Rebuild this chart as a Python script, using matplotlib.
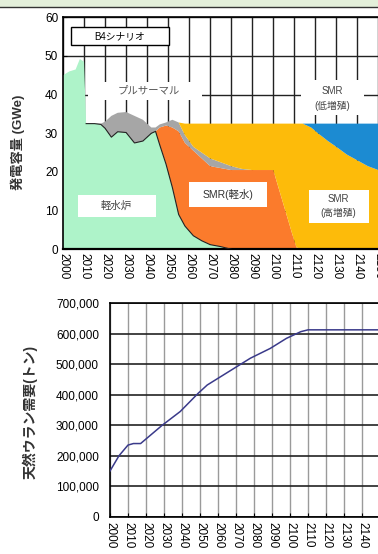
import matplotlib.pyplot as plt
from matplotlib.patches import Rectangle
import numpy as np

plt.rcParams['font.family'] = ['Liberation Sans', 'Noto Sans CJK JP', 'DejaVu Sans']

# ---- generating capacity by reactor type (GWe) ----
years = [2000, 2003, 2006, 2008, 2010, 2011, 2015, 2018, 2020, 2023, 2026,
         2030, 2034, 2038, 2042, 2044, 2046, 2049, 2052, 2055, 2058, 2062,
         2066, 2070, 2075, 2080, 2085, 2090, 2095, 2100, 2103, 2106, 2109,
         2111, 2114, 2118, 2122, 2126, 2130, 2135, 2140, 2145, 2150, 2160]

lwr = [45, 46, 46.5, 49.2, 48.5, 32.5, 32.5, 32.3, 31.3, 29, 30.4,
       30.2, 27.5, 28, 30, 30.5, 27, 22, 16, 9, 6, 3.5,
       2.2, 1.2, 0.7, 0, 0, 0, 0, 0, 0, 0, 0,
       0, 0, 0, 0, 0, 0, 0, 0, 0, 0, 0]
smr_lw = [0, 0, 0, 0, 0, 0, 0, 0, 0, 0, 0,
          0, 0, 0, 0, 0, 4.5, 10, 15.5, 21.5, 21.5, 22,
          21.3, 20.3, 20.3, 20.5, 20.5, 20.5, 20.5, 20.5, 15, 9.5, 4,
          0.5, 0, 0, 0, 0, 0, 0, 0, 0, 0, 0]
pluthermal = [0, 0, 0, 0, 0, 0, 0, 0.2, 1.7, 5.5, 4.9,
              5.3, 7, 5.5, 1.5, 1.0, 0.8, 0.8, 2.0, 2.3, 2.0, 1.0,
              1.5, 2.0, 1.5, 1.0, 0.3, 0, 0, 0, 0, 0, 0,
              0, 0, 0, 0, 0, 0, 0, 0, 0, 0, 0]
smr_high = [0, 0, 0, 0, 0, 0, 0, 0, 0, 0, 0,
            0, 0, 0, 0, 0, 0, 0, 0, 0, 3, 6,
            7.5, 9, 10, 11, 11.7, 12, 12, 12, 17.5, 23, 28.5,
            32, 32.5, 31.5, 29.7, 28, 26.5, 24.5, 23, 21.5, 20.5, 20]
smr_low = [0, 0, 0, 0, 0, 0, 0, 0, 0, 0, 0,
           0, 0, 0, 0, 0, 0, 0, 0, 0, 0, 0,
           0, 0, 0, 0, 0, 0, 0, 0, 0, 0, 0,
           0, 0, 1, 2.8, 4.5, 6, 8, 9.5, 11, 12, 12.5]

# ---- natural uranium demand (t, cumulative) ----
u_years = [2000, 2005, 2010, 2013, 2017, 2020, 2029, 2039, 2049, 2054, 2060,
           2069, 2078, 2089, 2098, 2106, 2110, 2160]
u_demand = [150000, 200000, 235000, 240000, 240000, 255000, 300000, 345000,
            405000, 432000, 454000, 487000, 520000, 552000, 585000, 607000,
            613000, 613000]

decades = list(range(2000, 2160, 10))

fig = plt.figure(figsize=(3.78, 5.54), dpi=100)

# header strip
fig.patches.append(Rectangle((0, 0.988), 1, 0.012, transform=fig.transFigure,
                             facecolor='#e3efda', edgecolor='none'))
fig.add_artist(plt.Line2D([0, 1], [0.988, 0.988], transform=fig.transFigure,
                          color='#333333', lw=1))

# ---------- capacity ----------
ax1 = fig.add_axes([0.1667, 0.55, 0.89, 0.4188])
ax1.stackplot(years, lwr, smr_lw, pluthermal, smr_high, smr_low,
              colors=['#aef3c9', '#fb7b2c', '#a6a6a6', '#fdbb0a', '#1c8bd2'],
              linewidth=0, zorder=2)
lwr_arr = np.array(lwr)
ax1.plot(years[5:26], lwr_arr[5:26], color='#222222', lw=0.8, zorder=3)
ax1.set_xlim(2000, 2160)
ax1.set_ylim(0, 60)
ax1.set_xticks(decades)
ax1.set_xticklabels([str(d) for d in decades], rotation=-90, fontsize=8.5)
ax1.set_yticks(range(0, 61, 10))
ax1.tick_params(axis='y', labelsize=8.5, direction='in', length=3)
ax1.tick_params(axis='x', direction='in', length=3, pad=3)
ax1.grid(True, color='#222222', lw=1, zorder=1)
ax1.set_axisbelow(True)
for s in ax1.spines.values():
    s.set_linewidth(1.2)
ax1.spines['bottom'].set_linewidth(1.6)
ax1.set_ylabel('発電容量 (GWe)', fontsize=9.5, fontweight='bold', color='#333333')
ax1.yaxis.set_label_coords(-0.113, 0.46)

# labels
ax1.add_patch(Rectangle((2004, 52.8), 46.5, 4.7, facecolor='white',
                        edgecolor='black', lw=1, zorder=4))
ax1.text(2027, 55.1, 'B4シナリオ', ha='center', va='center', fontsize=7, zorder=5)

white_boxes = [
    (2012, 38.5, 54, 4.7),
    (2113, 34.7, 30, 9.0),
    (2007, 8.3, 37, 5.7),
    (2060, 10.9, 37, 6.5),
    (2117, 6.8, 28.5, 8.5),
]
for x0, y0, w, h in white_boxes:
    ax1.add_patch(Rectangle((x0, y0), w, h, facecolor='white',
                            edgecolor='none', zorder=4))
ax1.text(2041, 41, 'プルサーマル', ha='center', va='center', fontsize=7.5,
         color='#555555', zorder=5)
ax1.text(2128, 39, 'SMR\n(低増殖)', ha='center', va='center', fontsize=7,
         color='#444444', linespacing=1.5, zorder=5)
ax1.text(2025.5, 11.2, '軽水炉', ha='center', va='center', fontsize=7.5,
         color='#444444', zorder=5)
ax1.text(2078.5, 14.2, 'SMR(軽水)', ha='center', va='center', fontsize=7.5,
         color='#333333', zorder=5)
ax1.text(2131, 11.1, 'SMR\n(高増殖)', ha='center', va='center', fontsize=7,
         color='#444444', linespacing=1.5, zorder=5)

# ---------- uranium demand ----------
ax2 = fig.add_axes([0.291, 0.0673, 0.762, 0.3852])
ax2.plot(u_years, u_demand, color='#3a3a8a', lw=1.1, zorder=3)
ax2.set_xlim(2000, 2160)
ax2.set_ylim(0, 700000)
ax2.set_xticks(decades)
ax2.set_xticklabels([str(d) for d in decades], rotation=-90, fontsize=8.5)
ax2.set_yticks(range(0, 700001, 100000))
ax2.set_yticklabels([f'{v:,}' for v in range(0, 700001, 100000)])
ax2.tick_params(axis='y', labelsize=8.5, direction='in', length=0, pad=8)
ax2.tick_params(axis='x', direction='in', length=3, pad=4)
ax2.grid(True, axis='x', color='#9a9a9a', lw=1)
ax2.grid(True, axis='y', color='#222222', lw=1.2)
ax2.set_axisbelow(True)
for s in ax2.spines.values():
    s.set_linewidth(1.2)
ax2.set_ylabel('天然ウラン需要(トン)', fontsize=10, fontweight='bold', color='#333333')
ax2.yaxis.set_label_coords(-0.25, 0.49)

fig.savefig('out.png', dpi=100)
